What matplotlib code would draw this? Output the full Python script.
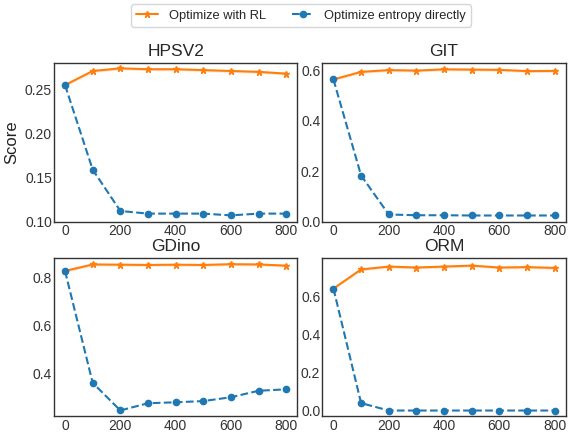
import numpy as np
import matplotlib
matplotlib.use("Agg")
import matplotlib.pyplot as plt

plt.style.use("seaborn-v0_8-white")
plt.rcParams['font.family'] = ['Liberation Sans', 'DejaVu Sans']

steps = [0, 100, 200, 300, 400, 500, 600, 700, 800]
titles = ["HPSV2", "GIT", "GDino", "ORM"]

rl_scores = {
    "HPSV2": [0.255, 0.271, 0.274, 0.273, 0.273, 0.272, 0.271, 0.270, 0.268],
    "GIT": [0.565, 0.595, 0.602, 0.600, 0.605, 0.604, 0.603, 0.598, 0.599],
    "GDino": [0.826, 0.853, 0.852, 0.851, 0.852, 0.851, 0.854, 0.853, 0.848],
    "ORM": [0.640, 0.740, 0.755, 0.750, 0.755, 0.760, 0.750, 0.752, 0.748],
}
entropy_scores = {
    "HPSV2": [0.255, 0.159, 0.112, 0.109, 0.109, 0.109, 0.107, 0.109, 0.109],
    "GIT": [0.565, 0.183, 0.028, 0.025, 0.025, 0.024, 0.024, 0.024, 0.024],
    "GDino": [0.826, 0.360, 0.245, 0.275, 0.279, 0.284, 0.300, 0.327, 0.333],
    "ORM": [0.640, 0.040, 0.001, 0.001, 0.001, 0.001, 0.001, 0.001, 0.001],
}
ylims = {
    "HPSV2": (0.10, 0.28),
    "GIT": (0.0, 0.63),
    "GDino": (0.22, 0.88),
    "ORM": (-0.03, 0.80),
}
yticks = {
    "HPSV2": [0.10, 0.15, 0.20, 0.25],
    "GIT": [0.0, 0.2, 0.4, 0.6],
    "GDino": [0.4, 0.6, 0.8],
    "ORM": [0.0, 0.2, 0.4, 0.6],
}

fig, axes = plt.subplots(2, 2, figsize=(5.68, 4.32), dpi=100)
fig.subplots_adjust(left=0.095, right=0.996, bottom=0.036, top=0.854, wspace=0.103, hspace=0.23)

for ax, name in zip(axes.flat, titles):
    rl = np.array(rl_scores[name])
    # thin shaded band around the RL curve
    band = 0.009 * (ylims[name][1] - ylims[name][0])
    ax.fill_between(steps, rl - band, rl + band, color='#ff7f0e', alpha=0.2, linewidth=0)
    ax.plot(steps, rl, color='#ff7f0e', marker='*', markersize=5, linewidth=1.5,
            label="Optimize with RL")
    ax.plot(steps, entropy_scores[name], color='#1f77b4', marker='o', markersize=4.5,
            linestyle='--', linewidth=1.5, label="Optimize entropy directly")
    ax.set_title(name, fontsize=12.5, pad=5)
    ax.set_ylim(*ylims[name])
    ax.set_xticks([0, 200, 400, 600, 800])
    ax.set_yticks(yticks[name])
    ax.tick_params(labelsize=10, pad=1.5, length=0, labelcolor='#333333')
    for s in ax.spines.values():
        s.set_color('#333333')
        s.set_linewidth(1.0)

axes[0, 0].set_ylabel("Score", fontsize=12, color='#222222')

handles, labels = axes[0, 0].get_legend_handles_labels()
fig.legend(handles, labels, loc='upper center', ncol=2, frameon=True, handlelength=1.7,
           bbox_to_anchor=(0.53, 1.005), fontsize=9.3)

fig.savefig("out.png", dpi=100)
